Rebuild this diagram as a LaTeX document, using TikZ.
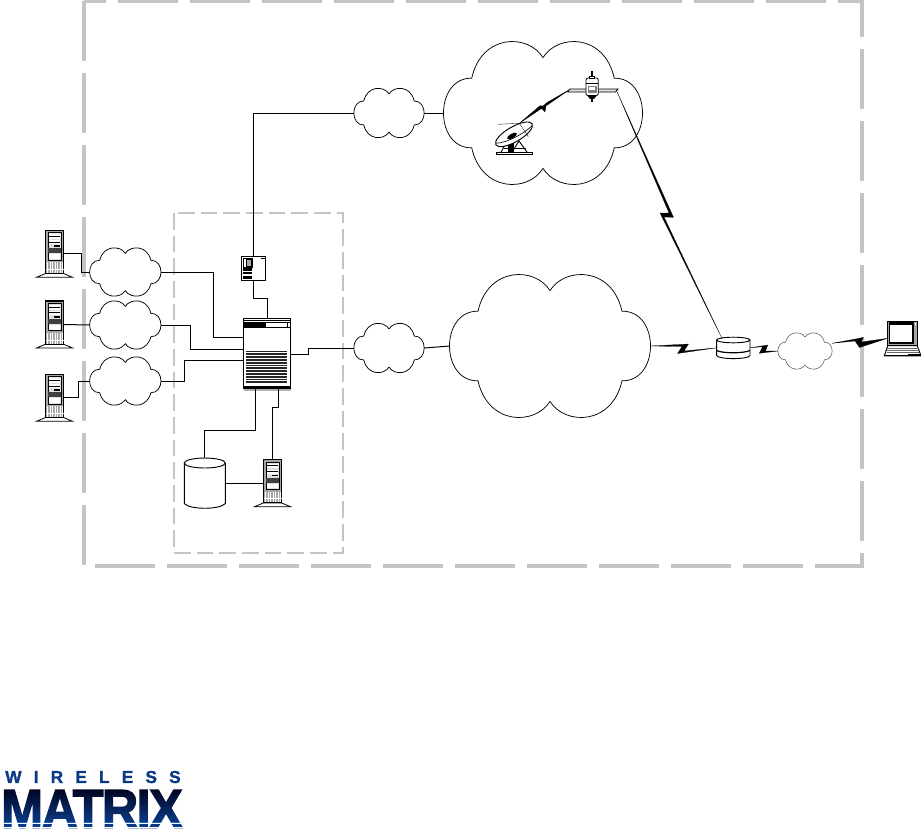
\documentclass[tikz,border=0pt]{standalone}
\usepackage{fontspec}
\usetikzlibrary{calc,shapes.geometric}
\newfontfamily\wmfont[LetterSpace=70,FakeBold=1.2]{Liberation Sans Bold}
\newfontfamily\mxfont[FakeBold=2.5,LetterSpace=-3]{Liberation Sans Bold}
\definecolor{dashgrey}{HTML}{C4C4C4}
\definecolor{wmblue}{HTML}{0A3A86}
\tikzset{
  anchorbox/.style={inner sep=0pt,outer sep=0pt,rectangle},
  conn/.style={line width=0.75pt,black},
  cloudline/.style={line width=0.55pt,black,fill=white},
  outerdash/.style={draw=dashgrey,line width=2.4pt,dash pattern=on 45pt off 9pt},
  innerdash/.style={draw=dashgrey,line width=2pt,dash pattern=on 12.5pt off 4.5pt},
  boltfill/.style={fill=black,draw=black,line width=0.15pt,line join=round},
}
% \cloudat{name}{cx}{cy}{hw}{hh}{style}
\newcommand{\cloudat}[6]{%
  \node[anchorbox,minimum width=2*#4*0.75pt,minimum height=2*#5*0.75pt] (#1) at (#2,#3) {};
  \begin{scope}[shift={(#2,#3)},xscale=#4,yscale=#5]
    \draw[#6] (0,-0.78)
      .. controls (-0.15,-1.12) and (-0.62,-1.12) .. (-0.72,-0.49)
      .. controls (-1.10,-0.50) and (-1.10,0.50) .. (-0.72,0.49)
      .. controls (-0.62,1.12) and (-0.15,1.12) .. (0,0.78)
      .. controls (0.15,1.12) and (0.62,1.12) .. (0.72,0.49)
      .. controls (1.10,0.50) and (1.10,-0.50) .. (0.72,-0.49)
      .. controls (0.62,-1.12) and (0.15,-1.12) .. (0,-0.78) -- cycle;
  \end{scope}}
% \serverat{name}{cx}{top}
\newcommand{\serverat}[3]{%
  \node[anchorbox,minimum width=13.5pt,minimum height=35.25pt] (#1) at (#2,#3+23.5) {};
  \begin{scope}[shift={(#2,#3)}]
    \draw[fill=white,line width=0.6pt] (-9,43.2) -- (-18,47) -- (18,47) -- (9,43.2) -- cycle;
    \draw[fill=gray!70,line width=0.8pt] (-9,0) rectangle (9,43.2);
    \fill[gray!25] (-6.5,2.3) rectangle (6.5,29.5);
    \draw[line width=0.4pt] (-6.5,2.3) rectangle (6.5,29.5);
    \fill[white] (-5.5,4) rectangle (5.5,8.5);
    \fill[black] (-5.5,5.5) rectangle (5.5,6.3);
    \fill[white] (-5.5,10) rectangle (5.5,14);
    \fill[black] (-5.5,11.3) rectangle (5.5,12);
    \fill[black] (-1,15) rectangle (5.5,16.5);
    \fill[black!75] (-6.5,18) rectangle (6.5,23);
    \fill[white] (-5.5,24) rectangle (5.5,28.5);
    \foreach \k in {-7,-4.5,-2,0.5,3,5.5,7.5}{\draw[white,line width=0.5pt] (\k,32) -- (\k,42.5);}
    \draw[white,line width=0.4pt] (-9,39) -- (9,39);
  \end{scope}}
\begin{document}
\begin{tikzpicture}[x=0.75pt,y=-0.75pt]
\useasboundingbox (0,0) rectangle (921,829);
\fill[white] (0,0) rectangle (921,829);

% dashed frames
\draw[outerdash] (84,1) rectangle (862,566);
\draw[innerdash] (174,213) rectangle (343,553);

% clouds
\cloudat{cA}{125.3}{272}{35.5}{24}{cloudline}
\cloudat{cB}{125.3}{325}{35.5}{24}{cloudline}
\cloudat{cC}{125.3}{381}{35.5}{24}{cloudline}
\cloudat{cD}{389}{113}{35}{24.5}{cloudline}
\cloudat{cE}{389}{348}{35}{24.5}{cloudline}
\cloudat{cSat}{543}{113}{99}{71}{cloudline}
\cloudat{cNet}{550}{346}{100}{71}{cloudline}
\cloudat{cLast}{805}{351}{27}{18}{line width=0.4pt,draw=black!65,fill=white}

% servers
\serverat{sA}{54.5}{230.3}
\serverat{sB}{54.5}{301}
\serverat{sC}{54.5}{374.3}
\serverat{sD}{272.5}{459.7}

% gateway
\node[anchorbox,minimum width=35.5pt,minimum height=53pt] (gw) at (267,353.6) {};
\draw[line width=0.8pt,fill=white] (gw.north west) rectangle (gw.south east);
\draw[line width=0.6pt] (243.3,320.8) -- (290.7,320.8);
\fill[black] (243.3,322) rectangle (266,327);
\draw[line width=0.6pt] (243.3,322.3) -- (290.7,322.3);
\draw[line width=0.6pt] (243.3,327) -- (290.7,327);
\draw[line width=0.6pt] (287.3,322.3) -- (287.3,327);
\foreach \k in {351.5,354.3,357.1,359.9,362.7,365.5,368.3,371.1,373.9,376.7,379.5,382.3}{
  \draw[black!85,line width=1.25pt] (246,\k) -- (286.7,\k);}
\fill[black] (243.3,386) rectangle (290.7,389);
\fill[gray!60] (243.8,389) rectangle (290.7,390.5);

% small terminal box
\node[anchorbox,minimum width=18.3pt,minimum height=18.3pt,draw=black,line width=0.7pt,fill=white] (box) at (253.5,268.5) {};
\draw[line width=0.5pt] (243,258) rectangle (252.3,267);
\fill[gray!70] (246,259.5) rectangle (251,265.5);
\draw[line width=0.4pt] (245.8,259.2) rectangle (251.2,265.8);
\fill[black] (243,268) rectangle (252.3,270.5);
\fill[black] (243,272) rectangle (252.3,274.2);
\fill[black] (243,275.5) rectangle (252.3,279);
\draw[line width=0.6pt] (261,258.3) -- (265,258.3);

% database cylinder
\node[anchorbox,minimum width=30.75pt,minimum height=37.7pt] (db) at (204.8,483.2) {};
\draw[line width=0.7pt,fill=white] (184.3,463) -- (184.3,503.6)
  .. controls (190,509.8) and (219.6,509.8) .. (225.3,503.6) -- (225.3,463);
\draw[line width=0.7pt,fill=white] (204.8,463) ellipse [x radius=20.5,y radius=5];

% modem
\node[anchorbox,minimum width=25pt,minimum height=15.7pt] (modem) at (733.3,347.8) {};
\coordinate (modemTop) at (722,338.5);
\draw[line width=0.7pt,fill=white] (716.7,340) -- (716.7,355.5)
  .. controls (718,359.6) and (748.7,359.6) .. (750,355.5) -- (750,340);
\draw[line width=0.7pt,fill=white] (733.3,340) ellipse [x radius=16.7,y radius=2.8];
\draw[line width=0.9pt] (716.7,350.5) .. controls (722,353.5) and (744,353.5) .. (750,350.5);

% laptop
\node[anchorbox,minimum width=22.2pt,minimum height=18.5pt] (lap) at (902.5,333.3) {};
\draw[line width=0.7pt,fill=gray!70] (887.7,321) rectangle (917.3,345.7);
\fill[black] (888.7,322) rectangle (913.5,344);
\fill[white] (890,325) rectangle (911.7,341.7);
\fill[white] (914.5,323) rectangle (916.3,325);
\draw[line width=0.7pt,fill=white] (887.7,345.7) -- (884.3,356) -- (921,356) -- (917.3,345.7) -- cycle;
\foreach \k in {348,350,352}{\draw[gray!80!black,line width=0.6pt] (886.5,\k) -- (919,\k);}
\fill[black] (908,353.5) rectangle (921,356);
\draw[line width=0.8pt] (884.3,355.8) -- (921,355.8);

% satellite
\node[anchorbox,minimum width=9.2pt,minimum height=14.3pt] (sat) at (592.2,86.2) {};
\coordinate (satL) at (570,89.3);
\coordinate (satR) at (616.5,90.5);
\draw[line width=0.6pt,fill=gray!25] (570,89) -- (567.5,92) -- (615.5,92) -- (618,89) -- cycle;
\draw[line width=0.6pt,fill=white,rounded corners=1.5pt] (586,78) rectangle (598.3,95.5);
\fill[black] (591,71) rectangle (592.8,76);
\draw[line width=0.4pt,fill=white] (589.5,76) rectangle (594.5,78);
\draw[line width=0.35pt] (586,83) -- (598.3,83);
\fill[gray] (588,86) rectangle (597,93);
\fill[white] (589,87) rectangle (595,90);
\fill[black] (587.5,95.5) .. controls (588.5,100.5) and (595.5,100.5) .. (596.5,95.5) -- cycle;
\fill[black] (590.5,99) rectangle (593,101.5);

% dish
\coordinate (dishFeed) at (519.3,123.3);
\node[anchorbox,minimum width=30pt,minimum height=20pt] (dish) at (514,134) {};
\draw[line width=0.6pt,fill=white] (496,152.2) rectangle (532.7,154.7);
\fill[black] (508,140) rectangle (514,153);
\draw[line width=0.7pt] (501,152.2) -- (507,141) -- (510,152.2);
\draw[line width=0.7pt] (527,152.2) -- (519,141) -- (512,152.2);
\draw[line width=0.6pt] (504,148) -- (526,148);
\draw[line width=0.7pt,fill=white,rotate around={30:(514,134.3)}] (514,134.3) ellipse [x radius=21,y radius=7.5];
\draw[line width=0.5pt,rotate around={30:(514,134.3)}] (494,133) .. controls (503,138.5) and (525,138.5) .. (534,136);
\fill[black,rotate around={30:(512,136)}] (512,136) ellipse [x radius=5.5,y radius=2.3];
\draw[line width=0.25pt] (497.3,124.3) -- (dishFeed) -- (528.3,136.7);

% connectors
\draw[conn] (sA.east) -- ++(18.4,0) |- (cA.west);
\draw[conn] (sB.east) -- (cB.west);
\draw[conn] (sC.east) -- ++(15.4,0) |- (cC.west);
\coordinate (gwA) at (gw.west |- 0,337.3);
\coordinate (gwB) at (gw.west |- 0,349.3);
\coordinate (gwC) at (gw.west |- 0,360.3);
\coordinate (gwE) at (gw.east |- 0,354.3);
\coordinate (gwS1) at (255.7,389);
\coordinate (gwS2) at (278.3,389);
\draw[conn] (cA.east) -- ++(52.6,0) |- (gwA);
\draw[conn] (cB.east) -- ++(29.6,0) |- (gwB);
\draw[conn] (cC.east) -- ++(23.6,0) |- (gwC);
\draw[conn] (gwE) -- ++(17.6,0) |- (cE.west);
\draw[conn] (gw.north) -- ++(0,-20) -| (box.south);
\draw[conn] (box.north) |- (cD.west);
\draw[conn] (gwS1) -- ++(0,41.3) -| (db.north |- 0,458);
\draw[conn] (gwS2) -- ++(0,18.3) -| (sD.north);
\draw[conn] (db.east) -- (sD.west);
\draw[conn] (cD.east) -- (cSat.west);
\draw[conn] (cE.east) -- (cNet.west);

% lightning links
\fill[boltfill] (satR) -- (673.5,217.3) -- (664,217) -- (modemTop) -- (660,213) -- (669,213) -- cycle;
\fill[boltfill] (satL) -- (546,106) -- (545,112) -- (541.5,108.5) -- (dishFeed) -- (540,105.7) -- (543,106) -- (547.3,102.3) -- cycle;
\fill[boltfill] (cNet.east) -- (688.5,344) -- (684,351) -- (modem.west) -- (677.5,353.5) -- (682,346.5) -- cycle;
\fill[boltfill] (modem.east) -- (767.7,345) -- (765.5,351) -- (cLast.west) -- (759.3,353.3) -- (762.5,346.7) -- cycle;
\fill[boltfill] (cLast.east |- 0,343.3) -- (863.5,337.5) -- (861,342) -- (lap.west |- 0,338.3) -- (859.5,347.5) -- (855,341) -- cycle;

% logo
\node[anchor=west,inner sep=0pt,text=wmblue,font=\wmfont\fontsize{13}{13}\selectfont] (wm) at (5,777) {WIRELESS};
\node[anchor=south west,inner sep=0pt,xscale=0.92,font=\mxfont\fontsize{41}{41}\selectfont,text=black] (mx) at (1,828) {MATRIX};
\shade[blend mode=screen,top color=black!90!blue,bottom color=wmblue] (0,787) rectangle (186,822);
\fill[blend mode=screen,wmblue] (0,822) rectangle (186,829);
\foreach \k in {822.5,826.5}{\fill[white] (0,\k) rectangle (186,\k+1.4);}
\end{tikzpicture}
\end{document}
